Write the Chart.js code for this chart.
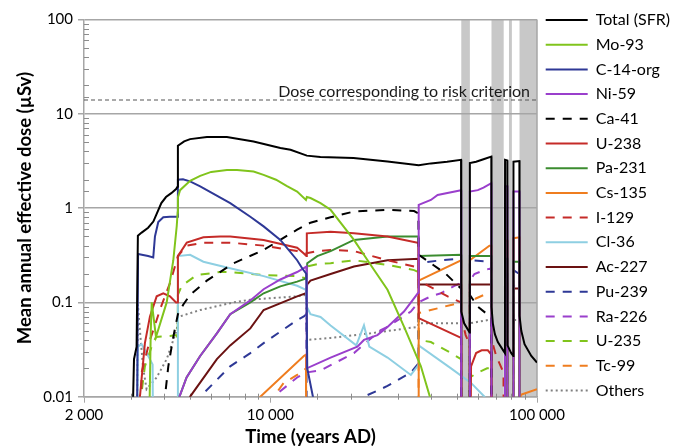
<!DOCTYPE html>
<html>
<head>
<meta charset="utf-8">
<title>SFR dose</title>
<script src="https://cdn.jsdelivr.net/npm/chart.js@4.4.1/dist/chart.umd.min.js"></script>
<style>
    html, body { margin: 0; padding: 0; background: #fff; }
</style>
</head>
<body>
<canvas id="doseChart" width="691" height="448"></canvas>
<script>
// ==================== DATA ====================

// Glacial periods (years AD), shaded grey
const glacialStart = [52000, 67500, 78500, 86000];
const glacialEnd = [56000, 75000, 80500, 100000];

// Dose corresponding to risk criterion (µSv)
const criterionDose = 14;

// Ticks that carry a label
const xTickLabels = [2000, 10000, 100000];
const yTickLabels = [0.01, 0.1, 1, 10, 100];

// [year AD, dose µSv] - 0.001 means below the plotted range
const total = [[3000, 0.001], [3080, 0.025], [3150, 0.034], [3185, 0.51], [3290, 0.55], [3480, 0.62], [3640, 0.72], [3760, 0.89], [3900, 1.13], [4060, 1.31], [4250, 1.44], [4430, 1.59], [4490, 1.69], [4500, 4.58], [4750, 5.1], [5000, 5.39], [5780, 5.66], [6870, 5.66], [8650, 5.09], [10900, 4.33], [11900, 4.15], [13700, 3.6], [15400, 3.48], [20500, 3.39], [27500, 3.12], [36000, 2.85], [40000, 2.98], [46000, 3.1], [51900, 3.25], [52000, 0.08], [53300, 0.06], [55900, 0.048], [56000, 3.0], [59100, 3.1], [63000, 3.3], [67400, 3.52], [67500, 0.09], [68300, 0.06], [69500, 0.046], [71300, 0.038], [75800, 0.029], [75900, 3.25], [77400, 3.2], [77500, 0.035], [80000, 0.029], [81500, 0.027], [81600, 3.1], [85900, 3.15], [86000, 0.072], [87300, 0.05], [89800, 0.036], [95200, 0.027], [100000, 0.023]];
const mo93 = [[3480, 0.001], [3560, 0.05], [3590, 0.1], [3724, 0.043], [4084, 0.1], [4325, 0.28], [4456, 0.65], [4490, 0.9], [4500, 1.3], [4585, 1.55], [5000, 1.95], [5454, 2.2], [6000, 2.42], [6870, 2.53], [7500, 2.53], [8650, 2.44], [9430, 2.25], [10500, 2.0], [11500, 1.72], [12600, 1.5], [13600, 1.22], [13700, 1.31], [14140, 1.28], [15420, 1.13], [16820, 0.96], [20580, 0.46], [24000, 0.24], [27500, 0.136], [31740, 0.055], [36690, 0.021], [40000, 0.0092], [42000, 0.005]];
const c14org = [[3150, 0.001], [3190, 0.326], [3480, 0.31], [3637, 0.3], [3691, 0.5], [3798, 0.71], [3966, 0.8], [4200, 0.81], [4490, 0.81], [4500, 2.0], [4700, 2.02], [4998, 1.92], [5454, 1.7], [7070, 1.13], [8410, 0.81], [9434, 0.64], [10900, 0.46], [12600, 0.28], [13160, 0.23], [13650, 0.2], [13750, 0.02], [14550, 0.009], [15000, 0.005]];
const ni59 = [[4520, 0.001], [4560, 0.01], [4850, 0.016], [5454, 0.027], [6300, 0.047], [7070, 0.075], [8410, 0.105], [9434, 0.138], [10900, 0.175], [12600, 0.21], [13650, 0.24], [13700, 0.02], [16820, 0.026], [21200, 0.034], [22440, 0.04], [25200, 0.045], [27500, 0.055], [31700, 0.08], [35900, 0.127], [36000, 1.08], [40000, 1.22], [42400, 1.38], [51900, 1.55], [52000, 0.001], [55900, 0.001], [56000, 1.5], [60000, 1.55], [63000, 1.65], [67400, 1.84], [67500, 0.001], [75800, 0.001], [75900, 1.7], [77400, 1.7], [77500, 0.001], [81500, 0.001], [81600, 1.5], [85900, 1.5], [86000, 0.001]];
const ca41 = [[3966, 0.001], [4024, 0.01], [4142, 0.021], [4325, 0.043], [4500, 0.075], [4716, 0.095], [4998, 0.12], [5776, 0.17], [7276, 0.26], [9434, 0.36], [12600, 0.59], [14140, 0.7], [16820, 0.8], [20580, 0.92], [27500, 0.96], [34600, 0.93], [35900, 0.88], [36000, 0.32], [40000, 0.26], [45580, 0.2], [51900, 0.14], [52000, 0.001], [55900, 0.001], [56000, 0.12], [60000, 0.09], [65000, 0.075], [67400, 0.07], [67500, 0.001]];
const u238 = [[3200, 0.001], [3242, 0.01], [3384, 0.037], [3535, 0.071], [3746, 0.116], [3966, 0.125], [4202, 0.116], [4428, 0.1], [4490, 0.1], [4500, 0.31], [4858, 0.43], [5608, 0.49], [6484, 0.5], [7070, 0.5], [9434, 0.46], [12600, 0.38], [13350, 0.33], [13650, 0.31], [13700, 0.54], [16820, 0.56], [20580, 0.54], [27500, 0.5], [35650, 0.43], [35900, 0.43], [36000, 0.068], [51900, 0.042], [52000, 0.001], [56200, 0.001], [56580, 0.021], [59100, 0.029], [62000, 0.031], [65400, 0.031], [67400, 0.028], [67500, 0.001]];
const pa231 = [[4520, 0.001], [4560, 0.01], [4850, 0.016], [5454, 0.027], [6300, 0.047], [7070, 0.075], [8410, 0.1], [9434, 0.125], [10900, 0.148], [12600, 0.166], [13650, 0.18], [13750, 0.26], [14990, 0.31], [16820, 0.35], [20580, 0.46], [27500, 0.5], [35900, 0.5], [36000, 0.31], [51900, 0.32], [52000, 0.001], [55900, 0.001], [56000, 0.31], [67400, 0.31], [67500, 0.001], [75800, 0.001], [75900, 0.29], [77400, 0.29], [77500, 0.001], [81500, 0.001], [81600, 0.27], [85900, 0.27], [86000, 0.001]];
const cs135 = [[8900, 0.001], [9170, 0.01], [13350, 0.027], [13600, 0.028], [13650, 0.001], [35900, 0.001], [36000, 0.17], [51900, 0.28], [52000, 0.001], [55900, 0.001], [56000, 0.28], [66300, 0.4], [67400, 0.4], [67500, 0.001], [75800, 0.001], [75900, 0.45], [77400, 0.45], [77500, 0.001], [81500, 0.001], [81600, 0.48], [85900, 0.49], [86000, 0.001], [86800, 0.001], [87000, 0.0105], [100000, 0.012]];
const i129 = [[3240, 0.001], [3289, 0.018], [3535, 0.04], [3746, 0.065], [3854, 0.084], [4202, 0.16], [4456, 0.28], [4500, 0.31], [4858, 0.4], [5600, 0.43], [7070, 0.43], [9434, 0.4], [12600, 0.35], [13540, 0.33], [14990, 0.35], [16820, 0.36], [20580, 0.35], [27500, 0.28], [34610, 0.24], [35900, 0.23], [36000, 0.17], [46240, 0.116], [51900, 0.1], [52000, 0.07], [54000, 0.045], [55900, 0.036], [56000, 0.001], [67500, 0.001], [67600, 0.04], [70300, 0.027], [74900, 0.018], [75000, 0.001]];
const cl36 = [[3150, 0.001], [3185, 0.034], [3289, 0.036], [3482, 0.027], [3617, 0.022], [3640, 0.001], [4490, 0.001], [4500, 0.31], [4998, 0.32], [5608, 0.27], [6872, 0.235], [9434, 0.19], [12600, 0.15], [13600, 0.136], [13700, 0.09], [14140, 0.075], [15420, 0.07], [16820, 0.057], [21000, 0.035], [22440, 0.057], [23500, 0.034], [27500, 0.026], [33640, 0.017], [35650, 0.021], [35900, 0.022], [36000, 0.035], [47600, 0.02], [56580, 0.014], [63500, 0.01], [66000, 0.008]];
const ac227 = [[4950, 0.001], [5000, 0.01], [6300, 0.025], [7070, 0.035], [8410, 0.053], [9434, 0.083], [12600, 0.116], [13600, 0.125], [13750, 0.155], [14140, 0.17], [16820, 0.2], [20580, 0.24], [27500, 0.28], [35900, 0.29], [36000, 0.155], [51900, 0.155], [52000, 0.001], [55900, 0.001], [56000, 0.155], [67400, 0.155], [67500, 0.001], [75800, 0.001], [75900, 0.16], [77400, 0.16], [77500, 0.001], [81500, 0.001], [81600, 0.14], [85900, 0.14], [86000, 0.001]];
const pu239 = [[5400, 0.001], [5454, 0.01], [7070, 0.021], [8410, 0.029], [9434, 0.037], [12600, 0.065], [13350, 0.071], [13650, 0.075], [13700, 0.001], [22300, 0.001], [22440, 0.01], [27500, 0.013], [33640, 0.018], [35650, 0.022], [35900, 0.022], [36000, 0.26], [43640, 0.28], [51900, 0.29], [52000, 0.001], [55900, 0.001], [56000, 0.28], [67400, 0.27], [67500, 0.001], [75800, 0.001], [75900, 0.24], [77400, 0.24], [77500, 0.001], [81500, 0.001], [81600, 0.22], [85900, 0.2], [86000, 0.001]];
const ra226 = [[10000, 0.001], [10290, 0.01], [12600, 0.016], [13540, 0.018], [15420, 0.019], [20580, 0.029], [25940, 0.051], [27500, 0.055], [33640, 0.08], [35900, 0.1], [40000, 0.116], [43640, 0.125], [49000, 0.15], [51900, 0.16], [52000, 0.001], [55900, 0.001], [56000, 0.17], [58240, 0.2], [63500, 0.22], [67400, 0.23], [67500, 0.001], [75800, 0.001], [75900, 0.17], [77400, 0.17], [77500, 0.001], [81500, 0.001], [81600, 0.15], [85900, 0.15], [86000, 0.001]];
const u235 = [[3242, 0.001], [3300, 0.012], [3384, 0.021], [3600, 0.035], [3724, 0.043], [4202, 0.044], [4428, 0.045], [4490, 0.042], [4500, 0.12], [4652, 0.15], [5298, 0.195], [6484, 0.21], [7070, 0.21], [9434, 0.195], [12600, 0.19], [13600, 0.18], [13700, 0.24], [14990, 0.255], [16820, 0.26], [20580, 0.28], [27500, 0.25], [34610, 0.22], [35900, 0.21], [36000, 0.04], [40000, 0.038], [47600, 0.029], [51900, 0.025], [52000, 0.001], [55900, 0.001], [56000, 0.016], [60000, 0.018], [65000, 0.02], [67400, 0.02], [67500, 0.001]];
const tc99 = [[10000, 0.001], [10300, 0.01], [11220, 0.014], [12600, 0.017], [13350, 0.019], [13600, 0.02], [13650, 0.001], [35900, 0.001], [36000, 0.077], [47600, 0.094], [51900, 0.1], [52000, 0.001], [55900, 0.001], [56000, 0.1], [59000, 0.11], [67400, 0.13], [67500, 0.001], [81500, 0.001], [81600, 0.12], [85900, 0.12], [86000, 0.001]];
const others = [[3150, 0.001], [3185, 0.095], [3242, 0.05], [3334, 0.02], [3434, 0.012], [3746, 0.016], [4084, 0.025], [4456, 0.051], [4500, 0.07], [5454, 0.083], [7276, 0.1], [8410, 0.107], [12600, 0.116], [13600, 0.12], [13700, 0.04], [16820, 0.042], [23790, 0.047], [35650, 0.055], [36000, 0.06], [51900, 0.06], [52000, 0.001], [55900, 0.001], [56000, 0.06], [65400, 0.065], [67400, 0.065], [67500, 0.001], [81500, 0.001], [81600, 0.065], [85900, 0.065], [86000, 0.001]];

// ==================== SERIES STYLE ====================

const DASH = [9, 8];
const series = [
    { label: 'Total (SFR)', data: total, color: '#000000' },
    { label: 'Mo-93', data: mo93, color: '#80c41c' },
    { label: 'C-14-org', data: c14org, color: '#2e3896' },
    { label: 'Ni-59', data: ni59, color: '#9a3fcc' },
    { label: 'Ca-41', data: ca41, color: '#000000', dash: DASH },
    { label: 'U-238', data: u238, color: '#c52b28' },
    { label: 'Pa-231', data: pa231, color: '#3b8c2f' },
    { label: 'Cs-135', data: cs135, color: '#ef7d1f' },
    { label: 'I-129', data: i129, color: '#c52b28', dash: DASH },
    { label: 'Cl-36', data: cl36, color: '#8ecfe2' },
    { label: 'Ac-227', data: ac227, color: '#6b1212' },
    { label: 'Pu-239', data: pu239, color: '#2e3896', dash: DASH },
    { label: 'Ra-226', data: ra226, color: '#9a3fcc', dash: DASH },
    { label: 'U-235', data: u235, color: '#80c41c', dash: DASH },
    { label: 'Tc-99', data: tc99, color: '#ef7d1f', dash: DASH },
    { label: 'Others', data: others, color: '#808080', dash: [2, 3] }
];

const AXIS_GREY = '#a6a6a6';

// ==================== HELPERS ====================

function isLabelled(value, list) {
    return list.some(t => Math.abs(t - value) < t * 1e-6);
}

function spaced(value) {
    return String(Math.round(value)).replace(/\B(?=(\d{3})+(?!\d))/g, ' ');
}

// legend entries drawn as short lines with the series' own dash pattern
function legendLabels(chart) {
    const items = Chart.defaults.plugins.legend.labels.generateLabels(chart);
    return items
        .filter(item => item.datasetIndex < series.length)
        .map(item => {
            const ds = chart.data.datasets[item.datasetIndex];
            item.lineDash = ds.borderDash;
            item.lineWidth = ds.borderWidth;
            item.strokeStyle = ds.borderColor;
            item.pointStyle = 'line';
            return item;
        });
}

// ==================== PLUGIN ====================

// grey glacial bands, right frame, minor ticks and the criterion label
const backdrop = {
    id: 'backdrop',
    beforeDraw(chart) {
        const { ctx, chartArea: a, scales: { x } } = chart;
        ctx.save();
        ctx.fillStyle = '#c8c8c8';
        glacialStart.forEach((start, i) => {
            const x0 = x.getPixelForValue(start);
            const x1 = x.getPixelForValue(glacialEnd[i]);
            ctx.fillRect(x0, a.top, x1 - x0, a.bottom - a.top);
        });
        ctx.restore();
    },
    beforeDatasetsDraw(chart) {
        const { ctx, chartArea: a, scales: { x, y } } = chart;
        ctx.save();
        ctx.strokeStyle = AXIS_GREY;
        ctx.lineWidth = 1.5;
        ctx.beginPath();
        ctx.moveTo(a.right, a.top);
        ctx.lineTo(a.right, a.bottom);
        ctx.stroke();

        ctx.strokeStyle = '#8c8c8c';
        ctx.lineWidth = 1;
        ctx.beginPath();
        y.ticks.forEach(t => {
            if (isLabelled(t.value, yTickLabels)) return;
            const py = Math.round(y.getPixelForValue(t.value)) + 0.5;
            ctx.moveTo(a.left, py);
            ctx.lineTo(a.left + 5, py);
        });
        x.ticks.forEach(t => {
            if (isLabelled(t.value, xTickLabels)) return;
            const px = Math.round(x.getPixelForValue(t.value)) + 0.5;
            ctx.moveTo(px, a.bottom - 3);
            ctx.lineTo(px, a.bottom + 3);
        });
        ctx.stroke();
        ctx.restore();
    },
    afterDatasetsDraw(chart) {
        const { ctx, chartArea: a, scales: { y } } = chart;
        ctx.save();
        ctx.font = '16px Lato';
        ctx.fillStyle = '#1a1a1a';
        ctx.textAlign = 'right';
        ctx.textBaseline = 'alphabetic';
        ctx.fillText('Dose corresponding to risk criterion', a.right - 7, y.getPixelForValue(criterionDose) - 3);
        ctx.restore();
    }
};

// ==================== CHART ====================

Chart.defaults.font.family = 'Lato';
Chart.defaults.color = '#000';

const datasets = series.map(s => ({
    label: s.label,
    data: s.data.map(([x, y]) => ({ x, y })),
    borderColor: s.color,
    backgroundColor: s.color,
    borderWidth: 2,
    borderDash: s.dash || [],
    pointRadius: 0,
    tension: 0,
    fill: false
}));

datasets.push({
    label: 'criterion',
    data: [{ x: 2000, y: criterionDose }, { x: 100000, y: criterionDose }],
    borderColor: '#555555',
    borderWidth: 1.2,
    borderDash: [4, 3],
    pointRadius: 0
});

new Chart(document.getElementById('doseChart'), {
    type: 'line',
    data: { datasets },
    options: {
        responsive: false,
        animation: false,
        events: [],
        layout: { padding: { top: 3.3, right: 5, bottom: 0, left: 0 } },
        plugins: {
            tooltip: { enabled: false },
            legend: {
                position: 'right',
                align: 'start',
                labels: {
                    usePointStyle: true,
                    pointStyle: 'line',
                    pointStyleWidth: 42,
                    padding: 8.7,
                    color: '#000',
                    font: { size: 16 },
                    generateLabels: legendLabels
                }
            }
        },
        scales: {
            x: {
                type: 'logarithmic',
                min: 2000,
                max: 100000,
                afterFit: scale => {
                    scale.height = 51.3;
                    scale.paddingRight = 154;
                },
                grid: {
                    drawOnChartArea: false,
                    tickLength: 6,
                    tickColor: c => (c.tick && isLabelled(c.tick.value, xTickLabels)) ? AXIS_GREY : 'transparent'
                },
                border: { color: AXIS_GREY, width: 1.5 },
                ticks: {
                    autoSkip: false,
                    maxRotation: 0,
                    padding: 3,
                    color: '#000',
                    font: { size: 15 },
                    callback: v => isLabelled(v, xTickLabels) ? spaced(v) : ''
                },
                title: {
                    display: true,
                    text: 'Time (years AD)',
                    color: '#000',
                    font: { size: 18.5, weight: 'bold' },
                    padding: { top: 0, bottom: 0 }
                }
            },
            y: {
                type: 'logarithmic',
                min: 0.01,
                max: 100,
                afterFit: scale => {
                    scale.width = 84;
                    scale.paddingTop = 19.5;
                },
                grid: {
                    lineWidth: 1.5,
                    tickLength: 6,
                    color: c => (c.tick && isLabelled(c.tick.value, yTickLabels)) ? AXIS_GREY : 'transparent',
                    tickColor: c => (c.tick && isLabelled(c.tick.value, yTickLabels)) ? AXIS_GREY : 'transparent'
                },
                border: { color: AXIS_GREY, width: 1.5 },
                ticks: {
                    autoSkip: false,
                    padding: 5,
                    color: '#000',
                    font: { size: 15 },
                    callback: v => isLabelled(v, yTickLabels) ? String(v) : ''
                },
                title: {
                    display: true,
                    text: 'Mean annual effective dose (µSv)',
                    color: '#000',
                    font: { size: 18.5, weight: 'bold' },
                    padding: { top: 14.4, bottom: 0 }
                }
            }
        }
    },
    plugins: [backdrop]
});
</script>
</body>
</html>
